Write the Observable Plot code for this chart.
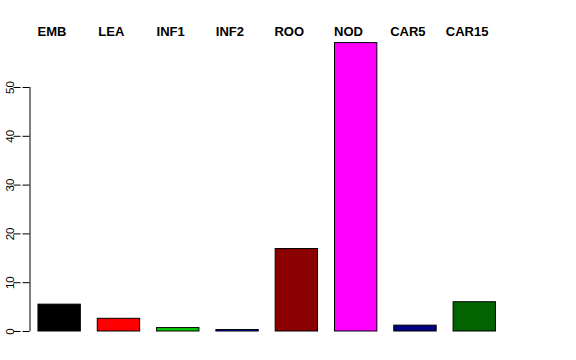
<!DOCTYPE html>
<html>
<head>
<meta charset="utf-8">
<script src="https://cdn.jsdelivr.net/npm/d3@7"></script>
<script src="https://cdn.jsdelivr.net/npm/@observablehq/plot@0.6"></script>
<style>
  html, body { margin: 0; padding: 0; background: #fff; }
  svg { display: block; }
</style>
</head>
<body>
<div id="chart"></div>
<script>
const categories = ["EMB", "LEA", "INF1", "INF2", "ROO", "NOD", "CAR5", "CAR15"];
const values = [5.5, 2.6, 0.7, 0.3, 16.9, 59.1, 1.2, 6.0];
const colors = ["#000000", "#FF0000", "#00CD00", "#0000FF", "#8B0000", "#FF00FF", "#000080", "#006400"];
const yTicks = [0, 10, 20, 30, 40, 50];

// R barplot layout: width 1, space 0.4
const space = 0.4;
const labelShift = -0.18;
const xMin = 0.2, xMax = 13;
const W = 576, ML = 29.5, MR = 4.3;
const pxPerUnit = (W - ML - MR) / (xMax - xMin);
const tickLen = 7 / pxPerUnit;

const bars = categories.map((c, i) => ({
  cat: c,
  value: values[i],
  color: colors[i],
  x1: space + i * (1 + space),
  x2: space + i * (1 + space) + 1,
  lx: space + i * (1 + space) + 0.5 + labelShift
}));

const plot = Plot.plot({
  width: W,
  height: 360,
  marginLeft: ML,
  marginRight: MR,
  marginTop: 0,
  marginBottom: 29,
  style: { fontFamily: "Liberation Sans, Arial, Helvetica, sans-serif", background: "#fff" },
  x: { type: "linear", domain: [xMin, xMax], axis: null },
  y: { type: "linear", domain: [0, 50], range: [331, 87], axis: null },
  marks: [
    Plot.rectY(bars, {
      x1: "x1", x2: "x2", y1: 0, y2: "value",
      fill: "color", stroke: "#000", strokeWidth: 1
    }),
    Plot.ruleX([xMin], { y1: d3.min(yTicks), y2: d3.max(yTicks), stroke: "#000", strokeWidth: 1 }),
    Plot.ruleY(yTicks, { y: d => d, x1: xMin - tickLen, x2: xMin, stroke: "#000", strokeWidth: 1 }),
    Plot.axisY({
      ticks: yTicks, tickSize: 7, tickPadding: 0, tickRotate: -90, label: null,
      fontSize: 11.5, anchor: "left", textAnchor: "middle", dx: -9, stroke: "#000", fill: "#000"
    }),
    Plot.text(bars, {
      x: "lx", text: "cat", frameAnchor: "top", dy: 26,
      fontSize: 13, fontWeight: "bold", fill: "#000"
    })
  ]
});
document.getElementById("chart").appendChild(plot);
</script>
</body>
</html>
